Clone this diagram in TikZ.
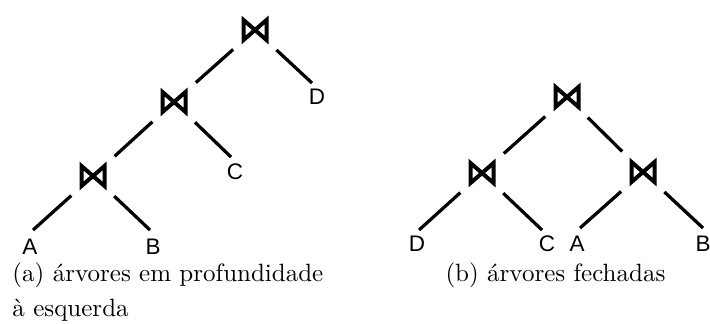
\documentclass[tikz,border=0pt]{standalone}
\usepackage{fontspec}
\newfontfamily\lsans{Liberation Sans}
\usetikzlibrary{calc}
\tikzset{
  joinop/.style={circle, minimum size=23pt, inner sep=0pt,
    path picture={\draw[line width=1.6pt, line join=miter]
      ($(path picture bounding box.center)+(-11.5,-10)$) -- ++(23,20) -- ++(0,-20) -- ++(-23,20) -- cycle;}},
  leaf/.style={font=\lsans\fontsize{9}{10}\selectfont, inner sep=0pt, outer sep=0pt},
  edge/.style={line width=1.3pt},
  capt/.style={font=\fontsize{10}{14}\selectfont, inner sep=0pt, align=left}
}
\begin{document}
\begin{tikzpicture}[x=0.4pt,y=-0.4pt]
\useasboundingbox (0,0) rectangle (710,323);
% (a) left-deep tree
\node[joinop] (a1) at (255,30) {};
\node[joinop] (a2) at (174,102) {};
\node[joinop] (a3) at (93,176) {};
\node[leaf] (aA) at (30,247) {A};
\node[leaf] (aB) at (153,247) {B};
\node[leaf] (aC) at (235,172) {C};
\node[leaf] (aD) at (317,97) {D};
\coordinate (aAe) at (33,230);
\coordinate (aBe) at (150,230);
\coordinate (aCe) at (231,157);
\coordinate (aDe) at (312,83);
\draw[edge] (a1) -- (a2);
\draw[edge] (a2) -- (a3);
\draw[edge] (a1) -- (aDe);
\draw[edge] (a2) -- (aCe);
\draw[edge] (a3) -- (aAe);
\draw[edge] (a3) -- (aBe);
\node[capt, anchor=north west] (capa) at (12,262) {(a) árvores em profundidade\\à esquerda};
% (b) bushy tree
\node[joinop] (b1) at (567,97) {};
\node[joinop] (b2) at (482,173) {};
\node[joinop] (b3) at (643,172) {};
\node[leaf] (bD) at (417,244) {D};
\node[leaf] (bC) at (547,244) {C};
\node[leaf] (bA) at (577,244) {A};
\node[leaf] (bB) at (703,244) {B};
\coordinate (bDe) at (419,230);
\coordinate (bCe) at (542,230);
\coordinate (bAe) at (580,228);
\coordinate (bBe) at (703,228);
\draw[edge] (b1) -- (b2);
\draw[edge] (b1) -- (b3);
\draw[edge] (b2) -- (bDe);
\draw[edge] (b2) -- (bCe);
\draw[edge] (b3) -- (bAe);
\draw[edge] (b3) -- (bBe);
\node[capt, anchor=base west] (capb) at (445,281) {(b) árvores fechadas};
\end{tikzpicture}
\end{document}
